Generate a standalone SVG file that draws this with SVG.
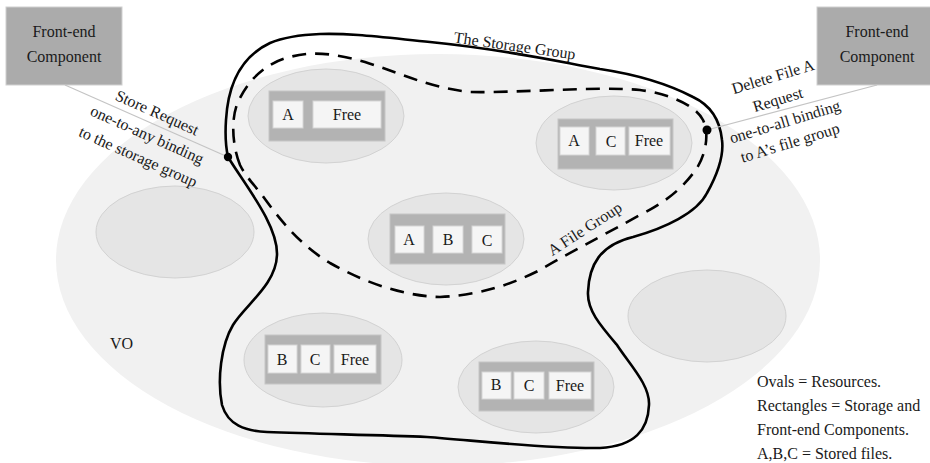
<svg xmlns="http://www.w3.org/2000/svg" width="930" height="463" viewBox="0 0 930 463">
<style>
text{font-family:"Liberation Serif","Times New Roman",serif;font-size:16px;fill:#1a1a1a}
.mid{text-anchor:middle}
.res{fill:#e5e5e5;stroke:#d2d2d2;stroke-width:1}
.store{fill:#b3b3b3;stroke:#c6c6c6;stroke-width:1}
.cell{fill:#f5f5f5;stroke:#d6d6d6;stroke-width:1}
.fe{fill:#ababab;stroke:#d0d0d0;stroke-width:1}
.link{stroke:#c4c4c4;stroke-width:1.2;fill:none}
.dot{fill:#000}
</style>
<rect width="930" height="463" fill="#ffffff"/>
<g id="vo">
<ellipse cx="438" cy="260" rx="382" ry="206" fill="#f1f1f1"/>
<text x="110" y="349">VO</text>
</g>
<g id="res-empty-left"><ellipse class="res" cx="175" cy="232" rx="79" ry="46"/></g>
<g id="res-empty-right"><ellipse class="res" cx="707" cy="316" rx="79" ry="46"/></g>
<g id="res-af">
<ellipse class="res" cx="326" cy="116" rx="78" ry="47"/>
<rect class="store" x="269" y="91" width="116" height="50"/>
<rect class="cell" x="273" y="101" width="30" height="27"/>
<rect class="cell" x="313" y="101" width="68" height="27"/>
<text class="mid" x="288" y="120">A</text>
<text class="mid" x="347" y="120">Free</text>
</g>
<g id="res-acf">
<ellipse class="res" cx="614" cy="143" rx="78" ry="47"/>
<rect class="store" x="558" y="119" width="115" height="50"/>
<rect class="cell" x="560" y="127" width="29" height="28"/>
<rect class="cell" x="596" y="127" width="29" height="28"/>
<rect class="cell" x="629" y="127" width="41" height="28"/>
<text class="mid" x="574" y="146">A</text>
<text class="mid" x="611" y="147">C</text>
<text class="mid" x="649" y="146">Free</text>
</g>
<g id="res-abc">
<ellipse class="res" cx="446" cy="239" rx="78" ry="46"/>
<rect class="store" x="390" y="214" width="115" height="50"/>
<rect class="cell" x="395" y="226" width="29" height="27"/>
<rect class="cell" x="433" y="226" width="30" height="27"/>
<rect class="cell" x="472" y="226" width="30" height="27"/>
<text class="mid" x="409" y="245">A</text>
<text class="mid" x="448" y="245">B</text>
<text class="mid" x="487" y="246">C</text>
</g>
<g id="res-bcf-left">
<ellipse class="res" cx="323" cy="360" rx="79" ry="47"/>
<rect class="store" x="265" y="335" width="116" height="49"/>
<rect class="cell" x="268" y="345" width="29" height="28"/>
<rect class="cell" x="301" y="345" width="29" height="28"/>
<rect class="cell" x="334" y="345" width="42" height="28"/>
<text class="mid" x="282" y="365">B</text>
<text class="mid" x="315" y="365">C</text>
<text class="mid" x="355" y="365">Free</text>
</g>
<g id="res-bcf-right">
<ellipse class="res" cx="536" cy="387" rx="78" ry="46"/>
<rect class="store" x="479" y="362" width="115" height="49"/>
<rect class="cell" x="482" y="372" width="29" height="27"/>
<rect class="cell" x="514" y="372" width="30" height="27"/>
<rect class="cell" x="549" y="372" width="42" height="27"/>
<text class="mid" x="496" y="390">B</text>
<text class="mid" x="529" y="391">C</text>
<text class="mid" x="570" y="391">Free</text>
</g>
<g id="storage-group">
<path d="M228,157 C245,185 278,225 277,255 C276,285 245,305 233,325 C221,345 217,380 222,405 C228,425 245,431 267,432 C320,434 380,435 427,437 C480,441 550,449 600,448 C635,446 648,430 649,405 C650,385 630,365 617,345 C600,325 587,310 588,292 C589,265 600,245 633,237 C665,228 697,213 707,193 C717,175 724,155 722,140 C720,120 710,105 693,97 C670,85 640,75 600,69 C560,62 510,50 430,42 C380,37 350,33 320,34 C295,35 282,38 270,43 C240,57 228,85 226,120 C225,135 226,148 228,157 Z" fill="none" stroke="#000" stroke-width="2.6"/>
<text class="mid" transform="translate(514,51) rotate(8)">The Storage Group</text>
</g>
<g id="file-group">
<path d="M240,165 C232,145 230,115 240,98 C250,78 268,62 290,57 C315,50 340,55 365,62 C400,73 430,88 470,92 C520,93 600,86 640,90 C670,94 695,105 703,120 C710,135 705,155 697,168 C685,185 670,200 640,215 C600,237 565,255 540,270 C510,285 480,295 440,297 C400,296 360,280 330,263 C300,245 280,220 262,195 C250,180 245,175 240,165 Z" fill="none" stroke="#000" stroke-width="2.6" stroke-dasharray="14 9"/>
<text class="mid" transform="translate(585,229) rotate(-33) translate(0,5)">A File Group</text>
</g>
<g id="fe-left">
<rect class="fe" x="6" y="7" width="116" height="78"/>
<text class="mid" x="64" y="37">Front-end</text>
<text class="mid" x="64" y="62">Component</text>
</g>
<g id="fe-right">
<rect class="fe" x="817" y="7" width="120" height="78"/>
<text class="mid" x="877" y="37">Front-end</text>
<text class="mid" x="877" y="62">Component</text>
</g>
<g id="connectors">
<line class="link" x1="65" y1="85" x2="228" y2="157"/>
<line class="link" x1="707" y1="130" x2="877" y2="85"/>
<circle class="dot" cx="228" cy="157" r="4.2"/>
<circle class="dot" cx="707" cy="130" r="4.5"/>
<text class="mid" transform="translate(157,113) rotate(24) translate(0,5)">Store Request</text>
<text class="mid" transform="translate(147,135) rotate(24) translate(0,5)">one-to-any binding</text>
<text class="mid" transform="translate(138,157) rotate(24) translate(0,5)">to the storage group</text>
<text class="mid" transform="translate(773,77) rotate(-17) translate(0,5)">Delete File A</text>
<text class="mid" transform="translate(778,100) rotate(-17) translate(0,5)">Request</text>
<text class="mid" transform="translate(785,122) rotate(-17) translate(0,5)">one-to-all binding</text>
<text class="mid" transform="translate(790,143) rotate(-17) translate(0,5)">to A’s file group</text>
</g>
<g id="legend">
<text x="757" y="387">Ovals = Resources.</text>
<text x="757" y="411">Rectangles = Storage and</text>
<text x="757" y="435">Front-end Components.</text>
<text x="757" y="459">A,B,C = Stored files.</text>
</g>
</svg>
